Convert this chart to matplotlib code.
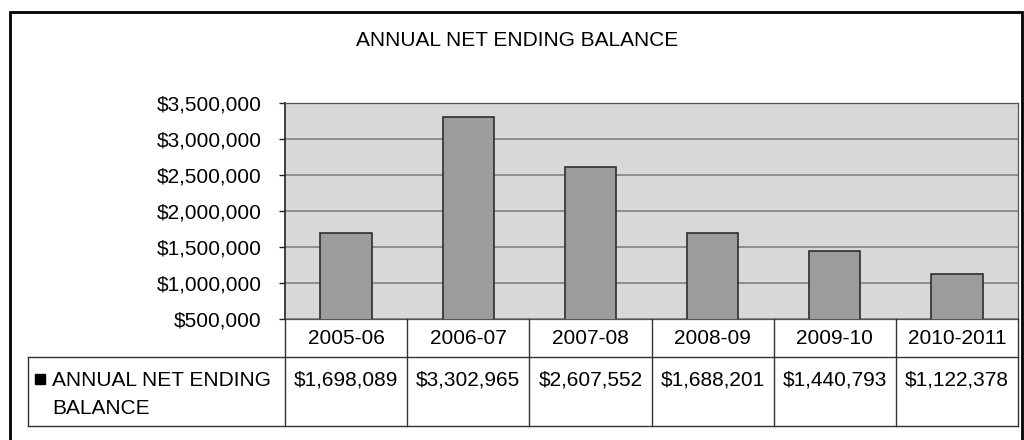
import matplotlib
matplotlib.use("Agg")
import matplotlib.pyplot as plt
from matplotlib.patches import Rectangle
from matplotlib.ticker import FuncFormatter

years = ["2005-06", "2006-07", "2007-08", "2008-09", "2009-10", "2010-2011"]
balance = [1698089, 3302965, 2607552, 1688201, 1440793, 1122378]
title = "ANNUAL NET ENDING BALANCE"

plt.rcParams['font.family'] = ['Liberation Sans', 'DejaVu Sans']
plt.rcParams['font.size'] = 15

W, H = 1024, 440
fig = plt.figure(figsize=(W / 100, H / 100), dpi=100)


def fx(px):
    return px / W


def fy(py):
    return 1 - py / H


# plot area in pixel coords
x0, x1 = 285, 1018
y_top, y_bot = 103, 319
row1, row2 = 357, 426

ax = fig.add_axes([fx(x0), fy(y_bot), fx(x1) - fx(x0), fy(y_top) - fy(y_bot)])
ax.set_facecolor("#d8d8d8")
n = len(years)
ax.bar(range(n), balance, width=0.42, color="#9c9c9c", edgecolor="#2e2e2e",
       linewidth=1.2, zorder=3)
ax.set_xlim(-0.5, n - 0.5)
ax.set_ylim(500000, 3500000)
ax.set_yticks(range(500000, 3500001, 500000))
ax.yaxis.set_major_formatter(FuncFormatter(lambda v, p: f"${v:,.0f}"))
ax.grid(axis="y", color="#7a7a7a", linewidth=1.1, zorder=1)
ax.set_xticks([])
ax.tick_params(axis="y", length=4, width=1, pad=13, labelsize=15, color="#222")
ax.spines["left"].set_color("#222")
ax.spines["left"].set_linewidth(1.2)
for s in ["top", "right", "bottom"]:
    ax.spines[s].set_color("#555")
    ax.spines[s].set_linewidth(0.9)

# data table under the plot, sharing the category positions
tax = fig.add_axes([fx(x0), fy(row2), fx(x1) - fx(x0), fy(y_bot) - fy(row2)])
tax.set_xlim(-0.5, n - 0.5)
tax.set_ylim(row2, y_bot)
tax.axis("off")
unit = (x1 - x0) / n


def px_x(px):
    return -0.5 - (x0 - px) / unit


left = px_x(28)
lc = "#333333"
lw = 1.0
for i in range(n + 1):
    tax.plot([i - 0.5, i - 0.5], [y_bot, row2], color=lc, lw=lw, clip_on=False)
tax.plot([left, n - 0.5], [row1, row1], color=lc, lw=lw, clip_on=False)
tax.plot([left, n - 0.5], [row2, row2], color=lc, lw=lw, clip_on=False)
tax.plot([left, left], [row1, row2], color=lc, lw=lw, clip_on=False)

for i, (yr, v) in enumerate(zip(years, balance)):
    tax.text(i, 338, yr, ha="center", va="center", fontsize=15)
    tax.text(i, 380, f"${v:,.0f}", ha="center", va="center", fontsize=15)

# legend key and series label
tax.add_patch(Rectangle((px_x(35), 384), 10 / unit, -10,
                        color="black", clip_on=False))
tax.text(px_x(52), 380, "ANNUAL NET ENDING", ha="left",
         va="center", fontsize=15)
tax.text(px_x(52), 408, "BALANCE", ha="left",
         va="center", fontsize=15)

fig.text(fx(517), fy(41), title, ha="center", va="center", fontsize=15)

# outer chart frame
fig.patches.append(Rectangle((fx(10), fy(450)), fx(1022) - fx(10),
                             fy(12) - fy(450), fill=False, edgecolor="black",
                             linewidth=2, transform=fig.transFigure))

fig.savefig("out.png", dpi=100, facecolor="white")
